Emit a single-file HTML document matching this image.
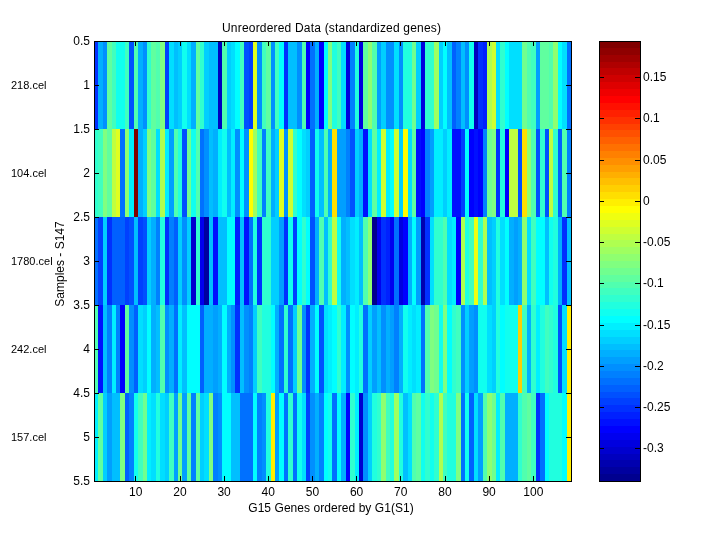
<!DOCTYPE html>
<html lang="en"><head><meta charset="utf-8"><title>Unreordered Data (standardized genes)</title>
<style>
html,body{margin:0;padding:0;background:#fff;}
body{width:720px;height:540px;overflow:hidden;position:relative;}
svg{position:absolute;left:0;top:0;display:block;}
text{font-family:"Liberation Sans",sans-serif;fill:#000;}
.t12{font-size:12px;}
.t11{font-size:11px;}
.hm rect,.cb rect{shape-rendering:crispEdges;}
.ax{stroke:#000;stroke-width:1;fill:none;shape-rendering:crispEdges;}
</style></head><body>
<svg width="720" height="540" viewBox="0 0 720 540">
<rect x="0" y="0" width="720" height="540" fill="#ffffff"/>
<g class="hm">
<rect x="94" y="41" width="4" height="88" fill="#0030ff"/>
<rect x="98" y="41" width="5" height="88" fill="#00afff"/>
<rect x="103" y="41" width="4" height="88" fill="#008fff"/>
<rect x="107" y="41" width="5" height="88" fill="#60ff9f"/>
<rect x="112" y="41" width="4" height="88" fill="#40ffbf"/>
<rect x="116" y="41" width="9" height="88" fill="#10ffef"/>
<rect x="125" y="41" width="4" height="88" fill="#40ffbf"/>
<rect x="129" y="41" width="5" height="88" fill="#0050ff"/>
<rect x="134" y="41" width="4" height="88" fill="#50ffaf"/>
<rect x="138" y="41" width="5" height="88" fill="#00afff"/>
<rect x="143" y="41" width="4" height="88" fill="#008fff"/>
<rect x="147" y="41" width="4" height="88" fill="#30ffcf"/>
<rect x="151" y="41" width="5" height="88" fill="#60ff9f"/>
<rect x="156" y="41" width="4" height="88" fill="#50ffaf"/>
<rect x="160" y="41" width="5" height="88" fill="#80ff80"/>
<rect x="165" y="41" width="4" height="88" fill="#0040ff"/>
<rect x="169" y="41" width="5" height="88" fill="#00dfff"/>
<rect x="174" y="41" width="4" height="88" fill="#00bfff"/>
<rect x="178" y="41" width="4" height="88" fill="#00cfff"/>
<rect x="182" y="41" width="5" height="88" fill="#10ffef"/>
<rect x="187" y="41" width="4" height="88" fill="#00dfff"/>
<rect x="191" y="41" width="5" height="88" fill="#00afff"/>
<rect x="196" y="41" width="4" height="88" fill="#60ff9f"/>
<rect x="200" y="41" width="4" height="88" fill="#30ffcf"/>
<rect x="204" y="41" width="5" height="88" fill="#00cfff"/>
<rect x="209" y="41" width="9" height="88" fill="#00bfff"/>
<rect x="218" y="41" width="4" height="88" fill="#0000bf"/>
<rect x="222" y="41" width="5" height="88" fill="#50ffaf"/>
<rect x="227" y="41" width="4" height="88" fill="#00cfff"/>
<rect x="231" y="41" width="4" height="88" fill="#00dfff"/>
<rect x="235" y="41" width="5" height="88" fill="#00ffff"/>
<rect x="240" y="41" width="4" height="88" fill="#40ffbf"/>
<rect x="244" y="41" width="5" height="88" fill="#0050ff"/>
<rect x="249" y="41" width="4" height="88" fill="#0040ff"/>
<rect x="253" y="41" width="4" height="88" fill="#dfff20"/>
<rect x="257" y="41" width="5" height="88" fill="#008fff"/>
<rect x="262" y="41" width="4" height="88" fill="#40ffbf"/>
<rect x="266" y="41" width="5" height="88" fill="#60ff9f"/>
<rect x="271" y="41" width="4" height="88" fill="#008fff"/>
<rect x="275" y="41" width="4" height="88" fill="#40ffbf"/>
<rect x="279" y="41" width="5" height="88" fill="#00ffff"/>
<rect x="284" y="41" width="4" height="88" fill="#0030ff"/>
<rect x="288" y="41" width="9" height="88" fill="#00bfff"/>
<rect x="297" y="41" width="5" height="88" fill="#008fff"/>
<rect x="302" y="41" width="4" height="88" fill="#50ffaf"/>
<rect x="306" y="41" width="4" height="88" fill="#0000ff"/>
<rect x="310" y="41" width="5" height="88" fill="#0070ff"/>
<rect x="315" y="41" width="4" height="88" fill="#00afff"/>
<rect x="319" y="41" width="5" height="88" fill="#0000ff"/>
<rect x="324" y="41" width="4" height="88" fill="#00ffff"/>
<rect x="328" y="41" width="4" height="88" fill="#80ff80"/>
<rect x="332" y="41" width="5" height="88" fill="#20ffdf"/>
<rect x="337" y="41" width="4" height="88" fill="#40ffbf"/>
<rect x="341" y="41" width="5" height="88" fill="#00dfff"/>
<rect x="346" y="41" width="4" height="88" fill="#0000df"/>
<rect x="350" y="41" width="5" height="88" fill="#0080ff"/>
<rect x="355" y="41" width="4" height="88" fill="#20ffdf"/>
<rect x="359" y="41" width="4" height="88" fill="#0000df"/>
<rect x="363" y="41" width="5" height="88" fill="#60ff9f"/>
<rect x="368" y="41" width="4" height="88" fill="#8fff70"/>
<rect x="372" y="41" width="5" height="88" fill="#50ffaf"/>
<rect x="377" y="41" width="4" height="88" fill="#009fff"/>
<rect x="381" y="41" width="5" height="88" fill="#00cfff"/>
<rect x="386" y="41" width="8" height="88" fill="#008fff"/>
<rect x="394" y="41" width="5" height="88" fill="#00dfff"/>
<rect x="399" y="41" width="4" height="88" fill="#008fff"/>
<rect x="403" y="41" width="9" height="88" fill="#20ffdf"/>
<rect x="412" y="41" width="4" height="88" fill="#70ff8f"/>
<rect x="416" y="41" width="5" height="88" fill="#00cfff"/>
<rect x="421" y="41" width="4" height="88" fill="#0000df"/>
<rect x="425" y="41" width="9" height="88" fill="#30ffcf"/>
<rect x="434" y="41" width="5" height="88" fill="#9fff60"/>
<rect x="439" y="41" width="4" height="88" fill="#00cfff"/>
<rect x="443" y="41" width="4" height="88" fill="#00ffff"/>
<rect x="447" y="41" width="5" height="88" fill="#00bfff"/>
<rect x="452" y="41" width="4" height="88" fill="#0060ff"/>
<rect x="456" y="41" width="5" height="88" fill="#0080ff"/>
<rect x="461" y="41" width="4" height="88" fill="#00bfff"/>
<rect x="465" y="41" width="4" height="88" fill="#008fff"/>
<rect x="469" y="41" width="5" height="88" fill="#10ffef"/>
<rect x="474" y="41" width="4" height="88" fill="#0000bf"/>
<rect x="478" y="41" width="5" height="88" fill="#0030ff"/>
<rect x="483" y="41" width="4" height="88" fill="#0020ff"/>
<rect x="487" y="41" width="5" height="88" fill="#afff50"/>
<rect x="492" y="41" width="4" height="88" fill="#cfff30"/>
<rect x="496" y="41" width="4" height="88" fill="#00dfff"/>
<rect x="500" y="41" width="5" height="88" fill="#30ffcf"/>
<rect x="505" y="41" width="4" height="88" fill="#00ffff"/>
<rect x="509" y="41" width="13" height="88" fill="#00dfff"/>
<rect x="522" y="41" width="5" height="88" fill="#70ff8f"/>
<rect x="527" y="41" width="4" height="88" fill="#50ffaf"/>
<rect x="531" y="41" width="5" height="88" fill="#40ffbf"/>
<rect x="536" y="41" width="4" height="88" fill="#009fff"/>
<rect x="540" y="41" width="9" height="88" fill="#60ff9f"/>
<rect x="549" y="41" width="4" height="88" fill="#50ffaf"/>
<rect x="553" y="41" width="5" height="88" fill="#8fff70"/>
<rect x="558" y="41" width="4" height="88" fill="#00ffff"/>
<rect x="562" y="41" width="5" height="88" fill="#00dfff"/>
<rect x="567" y="41" width="4" height="88" fill="#0070ff"/>
<rect x="94" y="129" width="4" height="88" fill="#30ffcf"/>
<rect x="98" y="129" width="5" height="88" fill="#40ffbf"/>
<rect x="103" y="129" width="4" height="88" fill="#80ff80"/>
<rect x="107" y="129" width="5" height="88" fill="#60ff9f"/>
<rect x="112" y="129" width="4" height="88" fill="#bfff40"/>
<rect x="116" y="129" width="4" height="88" fill="#dfff20"/>
<rect x="120" y="129" width="5" height="88" fill="#0070ff"/>
<rect x="125" y="129" width="4" height="88" fill="#8fff70"/>
<rect x="129" y="129" width="5" height="88" fill="#00efff"/>
<rect x="134" y="129" width="4" height="88" fill="#800000"/>
<rect x="138" y="129" width="5" height="88" fill="#00afff"/>
<rect x="143" y="129" width="4" height="88" fill="#00cfff"/>
<rect x="147" y="129" width="4" height="88" fill="#80ff80"/>
<rect x="151" y="129" width="5" height="88" fill="#60ff9f"/>
<rect x="156" y="129" width="4" height="88" fill="#00dfff"/>
<rect x="160" y="129" width="5" height="88" fill="#afff50"/>
<rect x="165" y="129" width="4" height="88" fill="#00efff"/>
<rect x="169" y="129" width="5" height="88" fill="#009fff"/>
<rect x="174" y="129" width="4" height="88" fill="#50ffaf"/>
<rect x="178" y="129" width="4" height="88" fill="#20ffdf"/>
<rect x="182" y="129" width="5" height="88" fill="#0050ff"/>
<rect x="187" y="129" width="4" height="88" fill="#70ff8f"/>
<rect x="191" y="129" width="5" height="88" fill="#10ffef"/>
<rect x="196" y="129" width="4" height="88" fill="#50ffaf"/>
<rect x="200" y="129" width="4" height="88" fill="#0070ff"/>
<rect x="204" y="129" width="5" height="88" fill="#008fff"/>
<rect x="209" y="129" width="4" height="88" fill="#00bfff"/>
<rect x="213" y="129" width="5" height="88" fill="#00afff"/>
<rect x="218" y="129" width="4" height="88" fill="#00efff"/>
<rect x="222" y="129" width="5" height="88" fill="#10ffef"/>
<rect x="227" y="129" width="4" height="88" fill="#00bfff"/>
<rect x="231" y="129" width="4" height="88" fill="#00efff"/>
<rect x="235" y="129" width="5" height="88" fill="#008fff"/>
<rect x="240" y="129" width="4" height="88" fill="#00ffff"/>
<rect x="244" y="129" width="5" height="88" fill="#008fff"/>
<rect x="249" y="129" width="4" height="88" fill="#ffff00"/>
<rect x="253" y="129" width="4" height="88" fill="#9fff60"/>
<rect x="257" y="129" width="5" height="88" fill="#40ffbf"/>
<rect x="262" y="129" width="4" height="88" fill="#0080ff"/>
<rect x="266" y="129" width="5" height="88" fill="#40ffbf"/>
<rect x="271" y="129" width="4" height="88" fill="#00afff"/>
<rect x="275" y="129" width="4" height="88" fill="#00cfff"/>
<rect x="279" y="129" width="5" height="88" fill="#dfff20"/>
<rect x="284" y="129" width="4" height="88" fill="#008fff"/>
<rect x="288" y="129" width="5" height="88" fill="#cfff30"/>
<rect x="293" y="129" width="4" height="88" fill="#30ffcf"/>
<rect x="297" y="129" width="5" height="88" fill="#00ffff"/>
<rect x="302" y="129" width="4" height="88" fill="#00dfff"/>
<rect x="306" y="129" width="4" height="88" fill="#00cfff"/>
<rect x="310" y="129" width="5" height="88" fill="#0060ff"/>
<rect x="315" y="129" width="4" height="88" fill="#10ffef"/>
<rect x="319" y="129" width="5" height="88" fill="#00bfff"/>
<rect x="324" y="129" width="4" height="88" fill="#50ffaf"/>
<rect x="328" y="129" width="4" height="88" fill="#00afff"/>
<rect x="332" y="129" width="5" height="88" fill="#ffdf00"/>
<rect x="337" y="129" width="9" height="88" fill="#009fff"/>
<rect x="346" y="129" width="4" height="88" fill="#0080ff"/>
<rect x="350" y="129" width="5" height="88" fill="#0050ff"/>
<rect x="355" y="129" width="4" height="88" fill="#00cfff"/>
<rect x="359" y="129" width="4" height="88" fill="#00afff"/>
<rect x="363" y="129" width="5" height="88" fill="#0010ff"/>
<rect x="368" y="129" width="4" height="88" fill="#00dfff"/>
<rect x="372" y="129" width="5" height="88" fill="#60ff9f"/>
<rect x="377" y="129" width="4" height="88" fill="#00efff"/>
<rect x="381" y="129" width="5" height="88" fill="#cfff30"/>
<rect x="386" y="129" width="4" height="88" fill="#00efff"/>
<rect x="390" y="129" width="4" height="88" fill="#00ffff"/>
<rect x="394" y="129" width="5" height="88" fill="#cfff30"/>
<rect x="399" y="129" width="4" height="88" fill="#00cfff"/>
<rect x="403" y="129" width="5" height="88" fill="#ffff00"/>
<rect x="408" y="129" width="4" height="88" fill="#00dfff"/>
<rect x="412" y="129" width="4" height="88" fill="#60ff9f"/>
<rect x="416" y="129" width="5" height="88" fill="#0010ff"/>
<rect x="421" y="129" width="4" height="88" fill="#0000ff"/>
<rect x="425" y="129" width="5" height="88" fill="#0080ff"/>
<rect x="430" y="129" width="4" height="88" fill="#009fff"/>
<rect x="434" y="129" width="9" height="88" fill="#00efff"/>
<rect x="443" y="129" width="4" height="88" fill="#00cfff"/>
<rect x="447" y="129" width="5" height="88" fill="#00efff"/>
<rect x="452" y="129" width="9" height="88" fill="#0010ff"/>
<rect x="461" y="129" width="4" height="88" fill="#0040ff"/>
<rect x="465" y="129" width="4" height="88" fill="#00ffff"/>
<rect x="469" y="129" width="5" height="88" fill="#0000ff"/>
<rect x="474" y="129" width="4" height="88" fill="#0010ff"/>
<rect x="478" y="129" width="5" height="88" fill="#0000ff"/>
<rect x="483" y="129" width="4" height="88" fill="#0080ff"/>
<rect x="487" y="129" width="5" height="88" fill="#70ff8f"/>
<rect x="492" y="129" width="4" height="88" fill="#80ff80"/>
<rect x="496" y="129" width="4" height="88" fill="#0030ff"/>
<rect x="500" y="129" width="5" height="88" fill="#20ffdf"/>
<rect x="505" y="129" width="4" height="88" fill="#0000ff"/>
<rect x="509" y="129" width="9" height="88" fill="#bfff40"/>
<rect x="518" y="129" width="4" height="88" fill="#0050ff"/>
<rect x="522" y="129" width="5" height="88" fill="#ffdf00"/>
<rect x="527" y="129" width="4" height="88" fill="#8fff70"/>
<rect x="531" y="129" width="5" height="88" fill="#50ffaf"/>
<rect x="536" y="129" width="4" height="88" fill="#0050ff"/>
<rect x="540" y="129" width="5" height="88" fill="#30ffcf"/>
<rect x="545" y="129" width="4" height="88" fill="#0050ff"/>
<rect x="549" y="129" width="4" height="88" fill="#bfff40"/>
<rect x="553" y="129" width="5" height="88" fill="#30ffcf"/>
<rect x="558" y="129" width="4" height="88" fill="#0060ff"/>
<rect x="562" y="129" width="5" height="88" fill="#50ffaf"/>
<rect x="567" y="129" width="4" height="88" fill="#0080ff"/>
<rect x="94" y="217" width="4" height="88" fill="#0070ff"/>
<rect x="98" y="217" width="5" height="88" fill="#0040ff"/>
<rect x="103" y="217" width="4" height="88" fill="#00cfff"/>
<rect x="107" y="217" width="5" height="88" fill="#0030ff"/>
<rect x="112" y="217" width="13" height="88" fill="#0060ff"/>
<rect x="125" y="217" width="4" height="88" fill="#0040ff"/>
<rect x="129" y="217" width="5" height="88" fill="#0050ff"/>
<rect x="134" y="217" width="4" height="88" fill="#00bfff"/>
<rect x="138" y="217" width="5" height="88" fill="#0040ff"/>
<rect x="143" y="217" width="4" height="88" fill="#0050ff"/>
<rect x="147" y="217" width="4" height="88" fill="#00cfff"/>
<rect x="151" y="217" width="5" height="88" fill="#00afff"/>
<rect x="156" y="217" width="4" height="88" fill="#0080ff"/>
<rect x="160" y="217" width="5" height="88" fill="#20ffdf"/>
<rect x="165" y="217" width="4" height="88" fill="#0030ff"/>
<rect x="169" y="217" width="5" height="88" fill="#0080ff"/>
<rect x="174" y="217" width="4" height="88" fill="#0060ff"/>
<rect x="178" y="217" width="4" height="88" fill="#00cfff"/>
<rect x="182" y="217" width="5" height="88" fill="#008fff"/>
<rect x="187" y="217" width="4" height="88" fill="#00cfff"/>
<rect x="191" y="217" width="5" height="88" fill="#0000cf"/>
<rect x="196" y="217" width="4" height="88" fill="#30ffcf"/>
<rect x="200" y="217" width="4" height="88" fill="#0000ef"/>
<rect x="204" y="217" width="5" height="88" fill="#00009f"/>
<rect x="209" y="217" width="4" height="88" fill="#00bfff"/>
<rect x="213" y="217" width="5" height="88" fill="#0010ff"/>
<rect x="218" y="217" width="9" height="88" fill="#00bfff"/>
<rect x="227" y="217" width="8" height="88" fill="#00ffff"/>
<rect x="235" y="217" width="5" height="88" fill="#0020ff"/>
<rect x="240" y="217" width="4" height="88" fill="#00bfff"/>
<rect x="244" y="217" width="5" height="88" fill="#0010ff"/>
<rect x="249" y="217" width="4" height="88" fill="#0070ff"/>
<rect x="253" y="217" width="4" height="88" fill="#20ffdf"/>
<rect x="257" y="217" width="5" height="88" fill="#0030ff"/>
<rect x="262" y="217" width="9" height="88" fill="#30ffcf"/>
<rect x="271" y="217" width="8" height="88" fill="#00cfff"/>
<rect x="279" y="217" width="5" height="88" fill="#009fff"/>
<rect x="284" y="217" width="4" height="88" fill="#0030ff"/>
<rect x="288" y="217" width="5" height="88" fill="#10ffef"/>
<rect x="293" y="217" width="4" height="88" fill="#0040ff"/>
<rect x="297" y="217" width="5" height="88" fill="#00ffff"/>
<rect x="302" y="217" width="4" height="88" fill="#30ffcf"/>
<rect x="306" y="217" width="4" height="88" fill="#00ffff"/>
<rect x="310" y="217" width="5" height="88" fill="#0050ff"/>
<rect x="315" y="217" width="4" height="88" fill="#00afff"/>
<rect x="319" y="217" width="5" height="88" fill="#50ffaf"/>
<rect x="324" y="217" width="4" height="88" fill="#00bfff"/>
<rect x="328" y="217" width="4" height="88" fill="#30ffcf"/>
<rect x="332" y="217" width="5" height="88" fill="#bfff40"/>
<rect x="337" y="217" width="4" height="88" fill="#10ffef"/>
<rect x="341" y="217" width="5" height="88" fill="#00afff"/>
<rect x="346" y="217" width="4" height="88" fill="#00bfff"/>
<rect x="350" y="217" width="5" height="88" fill="#00dfff"/>
<rect x="355" y="217" width="4" height="88" fill="#00efff"/>
<rect x="359" y="217" width="4" height="88" fill="#00bfff"/>
<rect x="363" y="217" width="5" height="88" fill="#50ffaf"/>
<rect x="368" y="217" width="4" height="88" fill="#8fff70"/>
<rect x="372" y="217" width="5" height="88" fill="#00008f"/>
<rect x="377" y="217" width="4" height="88" fill="#0000ef"/>
<rect x="381" y="217" width="5" height="88" fill="#0030ff"/>
<rect x="386" y="217" width="4" height="88" fill="#0020ff"/>
<rect x="390" y="217" width="4" height="88" fill="#0000ef"/>
<rect x="394" y="217" width="5" height="88" fill="#0070ff"/>
<rect x="399" y="217" width="4" height="88" fill="#0000df"/>
<rect x="403" y="217" width="5" height="88" fill="#0000ff"/>
<rect x="408" y="217" width="4" height="88" fill="#00afff"/>
<rect x="412" y="217" width="4" height="88" fill="#00ffff"/>
<rect x="416" y="217" width="5" height="88" fill="#009fff"/>
<rect x="421" y="217" width="4" height="88" fill="#0000af"/>
<rect x="425" y="217" width="5" height="88" fill="#0030ff"/>
<rect x="430" y="217" width="4" height="88" fill="#00dfff"/>
<rect x="434" y="217" width="9" height="88" fill="#30ffcf"/>
<rect x="443" y="217" width="4" height="88" fill="#50ffaf"/>
<rect x="447" y="217" width="5" height="88" fill="#00dfff"/>
<rect x="452" y="217" width="4" height="88" fill="#00efff"/>
<rect x="456" y="217" width="5" height="88" fill="#0000ff"/>
<rect x="461" y="217" width="4" height="88" fill="#afff50"/>
<rect x="465" y="217" width="4" height="88" fill="#20ffdf"/>
<rect x="469" y="217" width="5" height="88" fill="#40ffbf"/>
<rect x="474" y="217" width="4" height="88" fill="#efff10"/>
<rect x="478" y="217" width="5" height="88" fill="#30ffcf"/>
<rect x="483" y="217" width="4" height="88" fill="#afff50"/>
<rect x="487" y="217" width="5" height="88" fill="#00bfff"/>
<rect x="492" y="217" width="4" height="88" fill="#00cfff"/>
<rect x="496" y="217" width="4" height="88" fill="#20ffdf"/>
<rect x="500" y="217" width="5" height="88" fill="#00dfff"/>
<rect x="505" y="217" width="4" height="88" fill="#00ffff"/>
<rect x="509" y="217" width="5" height="88" fill="#00afff"/>
<rect x="514" y="217" width="4" height="88" fill="#009fff"/>
<rect x="518" y="217" width="4" height="88" fill="#00afff"/>
<rect x="522" y="217" width="5" height="88" fill="#8fff70"/>
<rect x="527" y="217" width="4" height="88" fill="#00dfff"/>
<rect x="531" y="217" width="5" height="88" fill="#40ffbf"/>
<rect x="536" y="217" width="9" height="88" fill="#00ffff"/>
<rect x="545" y="217" width="4" height="88" fill="#00bfff"/>
<rect x="549" y="217" width="4" height="88" fill="#10ffef"/>
<rect x="553" y="217" width="5" height="88" fill="#20ffdf"/>
<rect x="558" y="217" width="4" height="88" fill="#00afff"/>
<rect x="562" y="217" width="5" height="88" fill="#0030ff"/>
<rect x="567" y="217" width="4" height="88" fill="#00bfff"/>
<rect x="94" y="305" width="4" height="88" fill="#50ffaf"/>
<rect x="98" y="305" width="5" height="88" fill="#0010ff"/>
<rect x="103" y="305" width="4" height="88" fill="#00bfff"/>
<rect x="107" y="305" width="5" height="88" fill="#0080ff"/>
<rect x="112" y="305" width="4" height="88" fill="#00efff"/>
<rect x="116" y="305" width="4" height="88" fill="#0080ff"/>
<rect x="120" y="305" width="5" height="88" fill="#0000ff"/>
<rect x="125" y="305" width="4" height="88" fill="#60ff9f"/>
<rect x="129" y="305" width="5" height="88" fill="#008fff"/>
<rect x="134" y="305" width="4" height="88" fill="#0060ff"/>
<rect x="138" y="305" width="5" height="88" fill="#00dfff"/>
<rect x="143" y="305" width="4" height="88" fill="#00cfff"/>
<rect x="147" y="305" width="4" height="88" fill="#00ffff"/>
<rect x="151" y="305" width="5" height="88" fill="#00afff"/>
<rect x="156" y="305" width="4" height="88" fill="#00bfff"/>
<rect x="160" y="305" width="5" height="88" fill="#50ffaf"/>
<rect x="165" y="305" width="4" height="88" fill="#008fff"/>
<rect x="169" y="305" width="5" height="88" fill="#00afff"/>
<rect x="174" y="305" width="4" height="88" fill="#0070ff"/>
<rect x="178" y="305" width="4" height="88" fill="#00efff"/>
<rect x="182" y="305" width="5" height="88" fill="#00bfff"/>
<rect x="187" y="305" width="13" height="88" fill="#00ffff"/>
<rect x="200" y="305" width="4" height="88" fill="#0060ff"/>
<rect x="204" y="305" width="9" height="88" fill="#00afff"/>
<rect x="213" y="305" width="5" height="88" fill="#009fff"/>
<rect x="218" y="305" width="4" height="88" fill="#00afff"/>
<rect x="222" y="305" width="5" height="88" fill="#00ffff"/>
<rect x="227" y="305" width="4" height="88" fill="#00afff"/>
<rect x="231" y="305" width="4" height="88" fill="#008fff"/>
<rect x="235" y="305" width="5" height="88" fill="#0030ff"/>
<rect x="240" y="305" width="4" height="88" fill="#00bfff"/>
<rect x="244" y="305" width="5" height="88" fill="#008fff"/>
<rect x="249" y="305" width="4" height="88" fill="#0080ff"/>
<rect x="253" y="305" width="4" height="88" fill="#00cfff"/>
<rect x="257" y="305" width="5" height="88" fill="#40ffbf"/>
<rect x="262" y="305" width="9" height="88" fill="#20ffdf"/>
<rect x="271" y="305" width="4" height="88" fill="#00ffff"/>
<rect x="275" y="305" width="4" height="88" fill="#00afff"/>
<rect x="279" y="305" width="5" height="88" fill="#0070ff"/>
<rect x="284" y="305" width="4" height="88" fill="#30ffcf"/>
<rect x="288" y="305" width="5" height="88" fill="#0070ff"/>
<rect x="293" y="305" width="4" height="88" fill="#00cfff"/>
<rect x="297" y="305" width="5" height="88" fill="#70ff8f"/>
<rect x="302" y="305" width="4" height="88" fill="#008fff"/>
<rect x="306" y="305" width="4" height="88" fill="#0030ff"/>
<rect x="310" y="305" width="5" height="88" fill="#00afff"/>
<rect x="315" y="305" width="4" height="88" fill="#00ffff"/>
<rect x="319" y="305" width="5" height="88" fill="#0050ff"/>
<rect x="324" y="305" width="4" height="88" fill="#00dfff"/>
<rect x="328" y="305" width="4" height="88" fill="#00efff"/>
<rect x="332" y="305" width="5" height="88" fill="#00ffff"/>
<rect x="337" y="305" width="4" height="88" fill="#30ffcf"/>
<rect x="341" y="305" width="5" height="88" fill="#00efff"/>
<rect x="346" y="305" width="4" height="88" fill="#008fff"/>
<rect x="350" y="305" width="5" height="88" fill="#00ffff"/>
<rect x="355" y="305" width="4" height="88" fill="#00efff"/>
<rect x="359" y="305" width="4" height="88" fill="#20ffdf"/>
<rect x="363" y="305" width="5" height="88" fill="#0070ff"/>
<rect x="368" y="305" width="4" height="88" fill="#00cfff"/>
<rect x="372" y="305" width="5" height="88" fill="#009fff"/>
<rect x="377" y="305" width="4" height="88" fill="#00bfff"/>
<rect x="381" y="305" width="5" height="88" fill="#008fff"/>
<rect x="386" y="305" width="4" height="88" fill="#00afff"/>
<rect x="390" y="305" width="4" height="88" fill="#009fff"/>
<rect x="394" y="305" width="5" height="88" fill="#0080ff"/>
<rect x="399" y="305" width="4" height="88" fill="#00afff"/>
<rect x="403" y="305" width="5" height="88" fill="#10ffef"/>
<rect x="408" y="305" width="4" height="88" fill="#00efff"/>
<rect x="412" y="305" width="4" height="88" fill="#00dfff"/>
<rect x="416" y="305" width="5" height="88" fill="#00efff"/>
<rect x="421" y="305" width="4" height="88" fill="#0070ff"/>
<rect x="425" y="305" width="5" height="88" fill="#50ffaf"/>
<rect x="430" y="305" width="4" height="88" fill="#80ff80"/>
<rect x="434" y="305" width="5" height="88" fill="#70ff8f"/>
<rect x="439" y="305" width="4" height="88" fill="#10ffef"/>
<rect x="443" y="305" width="4" height="88" fill="#80ff80"/>
<rect x="447" y="305" width="5" height="88" fill="#00ffff"/>
<rect x="452" y="305" width="4" height="88" fill="#30ffcf"/>
<rect x="456" y="305" width="5" height="88" fill="#40ffbf"/>
<rect x="461" y="305" width="4" height="88" fill="#008fff"/>
<rect x="465" y="305" width="4" height="88" fill="#00cfff"/>
<rect x="469" y="305" width="5" height="88" fill="#009fff"/>
<rect x="474" y="305" width="4" height="88" fill="#008fff"/>
<rect x="478" y="305" width="9" height="88" fill="#10ffef"/>
<rect x="487" y="305" width="5" height="88" fill="#00dfff"/>
<rect x="492" y="305" width="4" height="88" fill="#00cfff"/>
<rect x="496" y="305" width="4" height="88" fill="#20ffdf"/>
<rect x="500" y="305" width="5" height="88" fill="#00ffff"/>
<rect x="505" y="305" width="13" height="88" fill="#10ffef"/>
<rect x="518" y="305" width="4" height="88" fill="#ffcf00"/>
<rect x="522" y="305" width="5" height="88" fill="#40ffbf"/>
<rect x="527" y="305" width="4" height="88" fill="#00afff"/>
<rect x="531" y="305" width="5" height="88" fill="#30ffcf"/>
<rect x="536" y="305" width="4" height="88" fill="#00efff"/>
<rect x="540" y="305" width="5" height="88" fill="#20ffdf"/>
<rect x="545" y="305" width="4" height="88" fill="#40ffbf"/>
<rect x="549" y="305" width="4" height="88" fill="#30ffcf"/>
<rect x="553" y="305" width="5" height="88" fill="#20ffdf"/>
<rect x="558" y="305" width="4" height="88" fill="#0050ff"/>
<rect x="562" y="305" width="5" height="88" fill="#00dfff"/>
<rect x="567" y="305" width="4" height="88" fill="#ffef00"/>
<rect x="94" y="393" width="4" height="88" fill="#00efff"/>
<rect x="98" y="393" width="5" height="88" fill="#60ff9f"/>
<rect x="103" y="393" width="4" height="88" fill="#00cfff"/>
<rect x="107" y="393" width="5" height="88" fill="#009fff"/>
<rect x="112" y="393" width="8" height="88" fill="#00bfff"/>
<rect x="120" y="393" width="5" height="88" fill="#80ff80"/>
<rect x="125" y="393" width="4" height="88" fill="#0060ff"/>
<rect x="129" y="393" width="5" height="88" fill="#0080ff"/>
<rect x="134" y="393" width="4" height="88" fill="#10ffef"/>
<rect x="138" y="393" width="5" height="88" fill="#40ffbf"/>
<rect x="143" y="393" width="4" height="88" fill="#70ff8f"/>
<rect x="147" y="393" width="4" height="88" fill="#00efff"/>
<rect x="151" y="393" width="5" height="88" fill="#00dfff"/>
<rect x="156" y="393" width="4" height="88" fill="#20ffdf"/>
<rect x="160" y="393" width="5" height="88" fill="#00dfff"/>
<rect x="165" y="393" width="4" height="88" fill="#00cfff"/>
<rect x="169" y="393" width="5" height="88" fill="#40ffbf"/>
<rect x="174" y="393" width="4" height="88" fill="#009fff"/>
<rect x="178" y="393" width="4" height="88" fill="#70ff8f"/>
<rect x="182" y="393" width="5" height="88" fill="#009fff"/>
<rect x="187" y="393" width="4" height="88" fill="#60ff9f"/>
<rect x="191" y="393" width="5" height="88" fill="#0080ff"/>
<rect x="196" y="393" width="4" height="88" fill="#60ff9f"/>
<rect x="200" y="393" width="4" height="88" fill="#00cfff"/>
<rect x="204" y="393" width="5" height="88" fill="#00dfff"/>
<rect x="209" y="393" width="4" height="88" fill="#80ff80"/>
<rect x="213" y="393" width="5" height="88" fill="#0080ff"/>
<rect x="218" y="393" width="4" height="88" fill="#008fff"/>
<rect x="222" y="393" width="9" height="88" fill="#00ffff"/>
<rect x="231" y="393" width="9" height="88" fill="#00bfff"/>
<rect x="240" y="393" width="13" height="88" fill="#0070ff"/>
<rect x="253" y="393" width="4" height="88" fill="#00ffff"/>
<rect x="257" y="393" width="5" height="88" fill="#0080ff"/>
<rect x="262" y="393" width="4" height="88" fill="#008fff"/>
<rect x="266" y="393" width="5" height="88" fill="#20ffdf"/>
<rect x="271" y="393" width="4" height="88" fill="#ffef00"/>
<rect x="275" y="393" width="4" height="88" fill="#009fff"/>
<rect x="279" y="393" width="5" height="88" fill="#00ffff"/>
<rect x="284" y="393" width="4" height="88" fill="#0070ff"/>
<rect x="288" y="393" width="5" height="88" fill="#30ffcf"/>
<rect x="293" y="393" width="4" height="88" fill="#0070ff"/>
<rect x="297" y="393" width="5" height="88" fill="#10ffef"/>
<rect x="302" y="393" width="4" height="88" fill="#00dfff"/>
<rect x="306" y="393" width="4" height="88" fill="#0040ff"/>
<rect x="310" y="393" width="5" height="88" fill="#008fff"/>
<rect x="315" y="393" width="4" height="88" fill="#00afff"/>
<rect x="319" y="393" width="5" height="88" fill="#0080ff"/>
<rect x="324" y="393" width="4" height="88" fill="#00ffff"/>
<rect x="328" y="393" width="4" height="88" fill="#10ffef"/>
<rect x="332" y="393" width="5" height="88" fill="#0070ff"/>
<rect x="337" y="393" width="4" height="88" fill="#00ffff"/>
<rect x="341" y="393" width="5" height="88" fill="#00afff"/>
<rect x="346" y="393" width="4" height="88" fill="#0000ff"/>
<rect x="350" y="393" width="5" height="88" fill="#30ffcf"/>
<rect x="355" y="393" width="4" height="88" fill="#00efff"/>
<rect x="359" y="393" width="4" height="88" fill="#0000cf"/>
<rect x="363" y="393" width="5" height="88" fill="#008fff"/>
<rect x="368" y="393" width="4" height="88" fill="#00cfff"/>
<rect x="372" y="393" width="5" height="88" fill="#20ffdf"/>
<rect x="377" y="393" width="4" height="88" fill="#30ffcf"/>
<rect x="381" y="393" width="5" height="88" fill="#8fff70"/>
<rect x="386" y="393" width="4" height="88" fill="#40ffbf"/>
<rect x="390" y="393" width="4" height="88" fill="#20ffdf"/>
<rect x="394" y="393" width="5" height="88" fill="#9fff60"/>
<rect x="399" y="393" width="4" height="88" fill="#20ffdf"/>
<rect x="403" y="393" width="5" height="88" fill="#00bfff"/>
<rect x="408" y="393" width="4" height="88" fill="#00dfff"/>
<rect x="412" y="393" width="4" height="88" fill="#50ffaf"/>
<rect x="416" y="393" width="5" height="88" fill="#60ff9f"/>
<rect x="421" y="393" width="4" height="88" fill="#10ffef"/>
<rect x="425" y="393" width="5" height="88" fill="#30ffcf"/>
<rect x="430" y="393" width="4" height="88" fill="#10ffef"/>
<rect x="434" y="393" width="5" height="88" fill="#30ffcf"/>
<rect x="439" y="393" width="4" height="88" fill="#afff50"/>
<rect x="443" y="393" width="4" height="88" fill="#40ffbf"/>
<rect x="447" y="393" width="9" height="88" fill="#20ffdf"/>
<rect x="456" y="393" width="5" height="88" fill="#80ff80"/>
<rect x="461" y="393" width="4" height="88" fill="#0070ff"/>
<rect x="465" y="393" width="4" height="88" fill="#10ffef"/>
<rect x="469" y="393" width="5" height="88" fill="#0060ff"/>
<rect x="474" y="393" width="4" height="88" fill="#00dfff"/>
<rect x="478" y="393" width="5" height="88" fill="#009fff"/>
<rect x="483" y="393" width="4" height="88" fill="#50ffaf"/>
<rect x="487" y="393" width="5" height="88" fill="#8fff70"/>
<rect x="492" y="393" width="4" height="88" fill="#70ff8f"/>
<rect x="496" y="393" width="4" height="88" fill="#00efff"/>
<rect x="500" y="393" width="5" height="88" fill="#50ffaf"/>
<rect x="505" y="393" width="13" height="88" fill="#00afff"/>
<rect x="518" y="393" width="4" height="88" fill="#30ffcf"/>
<rect x="522" y="393" width="5" height="88" fill="#50ffaf"/>
<rect x="527" y="393" width="4" height="88" fill="#60ff9f"/>
<rect x="531" y="393" width="5" height="88" fill="#40ffbf"/>
<rect x="536" y="393" width="4" height="88" fill="#0030ff"/>
<rect x="540" y="393" width="5" height="88" fill="#0070ff"/>
<rect x="545" y="393" width="4" height="88" fill="#00ffff"/>
<rect x="549" y="393" width="13" height="88" fill="#20ffdf"/>
<rect x="562" y="393" width="5" height="88" fill="#00ffff"/>
<rect x="567" y="393" width="4" height="88" fill="#ffef00"/>
</g>
<g class="ax">
<path d="M94.5 41.5H571.5V481.5H94.5Z"/>
<path d="M135.5 481.5v-5.5M135.5 41.5v4M180.5 481.5v-5.5M180.5 41.5v4M224.5 481.5v-5.5M224.5 41.5v4M268.5 481.5v-5.5M268.5 41.5v4M312.5 481.5v-5.5M312.5 41.5v4M356.5 481.5v-5.5M356.5 41.5v4M400.5 481.5v-5.5M400.5 41.5v4M445.5 481.5v-5.5M445.5 41.5v4M489.5 481.5v-5.5M489.5 41.5v4M533.5 481.5v-5.5M533.5 41.5v4M94.5 85.5h4M571.5 85.5h-5.5M94.5 129.5h4M571.5 129.5h-5.5M94.5 173.5h4M571.5 173.5h-5.5M94.5 217.5h4M571.5 217.5h-5.5M94.5 261.5h4M571.5 261.5h-5.5M94.5 305.5h4M571.5 305.5h-5.5M94.5 349.5h4M571.5 349.5h-5.5M94.5 393.5h4M571.5 393.5h-5.5M94.5 437.5h4M571.5 437.5h-5.5"/>
</g>
<g class="cb">
<rect x="599" y="474" width="41" height="7" fill="#00008f"/>
<rect x="599" y="467" width="41" height="7" fill="#00009f"/>
<rect x="599" y="460" width="41" height="7" fill="#0000af"/>
<rect x="599" y="454" width="41" height="6" fill="#0000bf"/>
<rect x="599" y="447" width="41" height="7" fill="#0000cf"/>
<rect x="599" y="440" width="41" height="7" fill="#0000df"/>
<rect x="599" y="433" width="41" height="7" fill="#0000ef"/>
<rect x="599" y="426" width="41" height="7" fill="#0000ff"/>
<rect x="599" y="419" width="41" height="7" fill="#0010ff"/>
<rect x="599" y="412" width="41" height="7" fill="#0020ff"/>
<rect x="599" y="405" width="41" height="7" fill="#0030ff"/>
<rect x="599" y="398" width="41" height="7" fill="#0040ff"/>
<rect x="599" y="392" width="41" height="6" fill="#0050ff"/>
<rect x="599" y="385" width="41" height="7" fill="#0060ff"/>
<rect x="599" y="378" width="41" height="7" fill="#0070ff"/>
<rect x="599" y="371" width="41" height="7" fill="#0080ff"/>
<rect x="599" y="364" width="41" height="7" fill="#008fff"/>
<rect x="599" y="357" width="41" height="7" fill="#009fff"/>
<rect x="599" y="350" width="41" height="7" fill="#00afff"/>
<rect x="599" y="344" width="41" height="6" fill="#00bfff"/>
<rect x="599" y="337" width="41" height="7" fill="#00cfff"/>
<rect x="599" y="330" width="41" height="7" fill="#00dfff"/>
<rect x="599" y="323" width="41" height="7" fill="#00efff"/>
<rect x="599" y="316" width="41" height="7" fill="#00ffff"/>
<rect x="599" y="309" width="41" height="7" fill="#10ffef"/>
<rect x="599" y="302" width="41" height="7" fill="#20ffdf"/>
<rect x="599" y="295" width="41" height="7" fill="#30ffcf"/>
<rect x="599" y="288" width="41" height="7" fill="#40ffbf"/>
<rect x="599" y="282" width="41" height="6" fill="#50ffaf"/>
<rect x="599" y="275" width="41" height="7" fill="#60ff9f"/>
<rect x="599" y="268" width="41" height="7" fill="#70ff8f"/>
<rect x="599" y="261" width="41" height="7" fill="#80ff80"/>
<rect x="599" y="254" width="41" height="7" fill="#8fff70"/>
<rect x="599" y="247" width="41" height="7" fill="#9fff60"/>
<rect x="599" y="240" width="41" height="7" fill="#afff50"/>
<rect x="599" y="234" width="41" height="6" fill="#bfff40"/>
<rect x="599" y="227" width="41" height="7" fill="#cfff30"/>
<rect x="599" y="220" width="41" height="7" fill="#dfff20"/>
<rect x="599" y="213" width="41" height="7" fill="#efff10"/>
<rect x="599" y="206" width="41" height="7" fill="#ffff00"/>
<rect x="599" y="199" width="41" height="7" fill="#ffef00"/>
<rect x="599" y="192" width="41" height="7" fill="#ffdf00"/>
<rect x="599" y="185" width="41" height="7" fill="#ffcf00"/>
<rect x="599" y="178" width="41" height="7" fill="#ffbf00"/>
<rect x="599" y="172" width="41" height="6" fill="#ffaf00"/>
<rect x="599" y="165" width="41" height="7" fill="#ff9f00"/>
<rect x="599" y="158" width="41" height="7" fill="#ff8f00"/>
<rect x="599" y="151" width="41" height="7" fill="#ff8000"/>
<rect x="599" y="144" width="41" height="7" fill="#ff7000"/>
<rect x="599" y="137" width="41" height="7" fill="#ff6000"/>
<rect x="599" y="130" width="41" height="7" fill="#ff5000"/>
<rect x="599" y="124" width="41" height="6" fill="#ff4000"/>
<rect x="599" y="117" width="41" height="7" fill="#ff3000"/>
<rect x="599" y="110" width="41" height="7" fill="#ff2000"/>
<rect x="599" y="103" width="41" height="7" fill="#ff1000"/>
<rect x="599" y="96" width="41" height="7" fill="#ff0000"/>
<rect x="599" y="89" width="41" height="7" fill="#ef0000"/>
<rect x="599" y="82" width="41" height="7" fill="#df0000"/>
<rect x="599" y="75" width="41" height="7" fill="#cf0000"/>
<rect x="599" y="68" width="41" height="7" fill="#bf0000"/>
<rect x="599" y="62" width="41" height="6" fill="#af0000"/>
<rect x="599" y="55" width="41" height="7" fill="#9f0000"/>
<rect x="599" y="48" width="41" height="7" fill="#8f0000"/>
<rect x="599" y="41" width="41" height="7" fill="#800000"/>
</g>
<g class="ax"><path d="M599.5 41.5H640.5V481.5H599.5Z"/>
<path d="M599.5 77.5h4M640.5 77.5h-5.5M599.5 118.5h4M640.5 118.5h-5.5M599.5 160.5h4M640.5 160.5h-5.5M599.5 201.5h4M640.5 201.5h-5.5M599.5 242.5h4M640.5 242.5h-5.5M599.5 283.5h4M640.5 283.5h-5.5M599.5 325.5h4M640.5 325.5h-5.5M599.5 366.5h4M640.5 366.5h-5.5M599.5 407.5h4M640.5 407.5h-5.5M599.5 448.5h4M640.5 448.5h-5.5"/></g>
<g class="t12">
<text x="331.5" y="32" text-anchor="middle" textLength="219" lengthAdjust="spacing">Unreordered Data (standardized genes)</text>
<text x="331" y="512" text-anchor="middle" textLength="165.5" lengthAdjust="spacing">G15 Genes ordered by G1(S1)</text>
<text transform="translate(64,264) rotate(-90)" text-anchor="middle">Samples - S147</text>
<text x="135.8" y="496" text-anchor="middle">10</text>
<text x="179.9" y="496" text-anchor="middle">20</text>
<text x="224.1" y="496" text-anchor="middle">30</text>
<text x="268.3" y="496" text-anchor="middle">40</text>
<text x="312.4" y="496" text-anchor="middle">50</text>
<text x="356.6" y="496" text-anchor="middle">60</text>
<text x="400.8" y="496" text-anchor="middle">70</text>
<text x="444.9" y="496" text-anchor="middle">80</text>
<text x="489.1" y="496" text-anchor="middle">90</text>
<text x="533.3" y="496" text-anchor="middle">100</text>
<text x="90" y="45" text-anchor="end">0.5</text>
<text x="90" y="89" text-anchor="end">1</text>
<text x="90" y="133" text-anchor="end">1.5</text>
<text x="90" y="177" text-anchor="end">2</text>
<text x="90" y="221" text-anchor="end">2.5</text>
<text x="90" y="265" text-anchor="end">3</text>
<text x="90" y="309" text-anchor="end">3.5</text>
<text x="90" y="353" text-anchor="end">4</text>
<text x="90" y="397" text-anchor="end">4.5</text>
<text x="90" y="441" text-anchor="end">5</text>
<text x="90" y="485" text-anchor="end">5.5</text>
<text x="643" y="81">0.15</text>
<text x="643" y="122">0.1</text>
<text x="643" y="164">0.05</text>
<text x="643" y="205">0</text>
<text x="643" y="246">-0.05</text>
<text x="643" y="287">-0.1</text>
<text x="643" y="329">-0.15</text>
<text x="643" y="370">-0.2</text>
<text x="643" y="411">-0.25</text>
<text x="643" y="452">-0.3</text>
</g>
<g class="t11">
<text x="11" y="89">218.cel</text>
<text x="11" y="177">104.cel</text>
<text x="11" y="265">1780.cel</text>
<text x="11" y="353">242.cel</text>
<text x="11" y="441">157.cel</text>
</g>
</svg></body></html>
